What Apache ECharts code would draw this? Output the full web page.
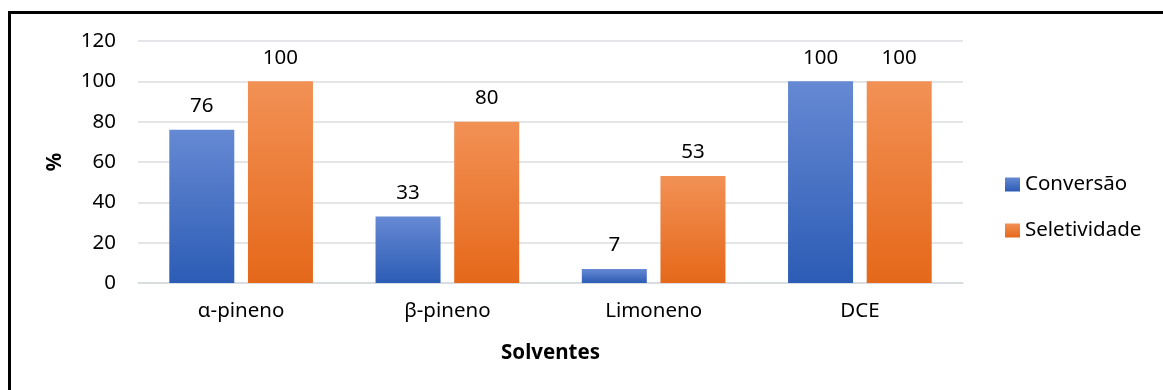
<!DOCTYPE html>
<html>
<head>
<meta charset="utf-8">
<script src="https://cdn.jsdelivr.net/npm/echarts@6/dist/echarts.min.js"></script>
<style>
  html, body { margin: 0; padding: 0; background: #fff; }
  #chart { width: 1163px; height: 390px; }
</style>
</head>
<body>
<div id="chart"></div>
<script>
  // data
  const categories = ['α-pineno', 'β-pineno', 'Limoneno', 'DCE'];
  const conversao = [76, 33, 7, 100];
  const seletividade = [100, 80, 53, 100];
  const yTicks = [0, 20, 40, 60, 80, 100, 120];

  const font = 'Noto Sans';
  const fs = 20.5;
  const chart = echarts.init(document.getElementById('chart'));

  function grad(top, bottom) {
    return new echarts.graphic.LinearGradient(0, 0, 0, 1, [
      { offset: 0, color: top },
      { offset: 1, color: bottom }
    ]);
  }

  const labelStyle = {
    show: true,
    position: 'top',
    distance: 13,
    fontFamily: font,
    fontSize: fs,
    color: '#000'
  };

  const option = {
    animation: false,
    textStyle: { fontFamily: font },
    graphic: [{
      type: 'rect',
      shape: { x: 9.5, y: 12.5, width: 1400, height: 600 },
      style: { fill: 'none', stroke: '#000', lineWidth: 3 },
      silent: true
    }],
    grid: { left: 138, right: 200, top: 41, bottom: 107 },
    legend: {
      orient: 'vertical',
      left: 1005,
      top: 174,
      padding: 0,
      itemWidth: 15,
      itemHeight: 14,
      itemGap: 25,
      icon: 'rect',
      textStyle: { fontFamily: font, fontSize: fs, color: '#000', padding: [0, 0, 0, 0] },
      data: ['Conversão', 'Seletividade']
    },
    xAxis: {
      type: 'category',
      data: categories,
      name: 'Solventes',
      nameLocation: 'middle',
      nameGap: 60,
      nameTextStyle: { fontFamily: font, fontSize: fs, fontWeight: 'bold', color: '#000' },
      axisLine: { lineStyle: { color: '#d6dae0', width: 1.5 } },
      axisTick: { show: false },
      axisLabel: { margin: 18, fontFamily: font, fontSize: fs, color: '#000' }
    },
    yAxis: {
      type: 'value',
      min: yTicks[0],
      max: yTicks[yTicks.length - 1],
      interval: 20,
      name: '%',
      nameLocation: 'middle',
      nameGap: 72,
      nameTextStyle: { fontFamily: font, fontSize: fs, fontWeight: 'bold', color: '#000' },
      axisLine: { show: false },
      axisTick: { show: false },
      axisLabel: { margin: 22, fontFamily: font, fontSize: fs, color: '#000' },
      splitLine: { lineStyle: { color: '#dadde2', width: 1.5 } }
    },
    series: [{
      name: 'Conversão',
      type: 'bar',
      data: conversao,
      barWidth: 65,
      barGap: '21%',
      itemStyle: { color: grad('#6689d3', '#2c5cb5') },
      label: labelStyle
    }, {
      name: 'Seletividade',
      type: 'bar',
      data: seletividade,
      barWidth: 65,
      barGap: '21%',
      itemStyle: { color: grad('#f29155', '#e5681a') },
      label: labelStyle
    }]
  };

  chart.setOption(option);
</script>
</body>
</html>
